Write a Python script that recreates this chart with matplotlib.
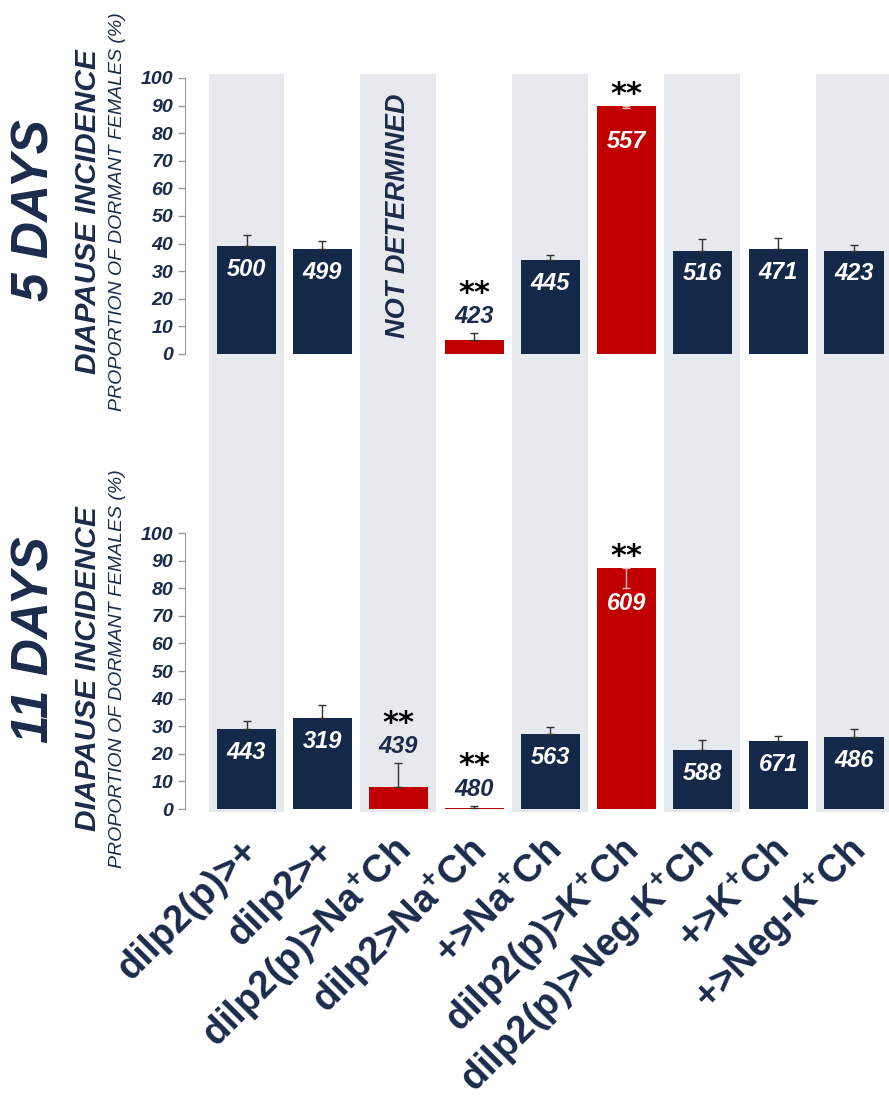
import numpy as np
import matplotlib
matplotlib.use("Agg")
import matplotlib.pyplot as plt
from matplotlib.transforms import ScaledTranslation

plt.rcParams["font.family"] = ["Liberation Sans", "DejaVu Sans"]
plt.rcParams["mathtext.fontset"] = "custom"
plt.rcParams["mathtext.rm"] = "Liberation Sans:bold"
plt.rcParams["mathtext.bf"] = "Liberation Sans:bold"

# genotypes along the x axis
genotypes = [
    "dilp2(p)>+",
    "dilp2>+",
    "dilp2(p)>Na$^{+}$Ch",
    "dilp2>Na$^{+}$Ch",
    "+>Na$^{+}$Ch",
    "dilp2(p)>K$^{+}$Ch",
    "dilp2(p)>Neg-K$^{+}$Ch",
    "+>K$^{+}$Ch",
    "+>Neg-K$^{+}$Ch",
]

# 5 days: % dormant females, error, n, significance (nan = not determined)
day5_values = [39, 38, np.nan, 5, 34, 90, 37.5, 38, 37.5]
day5_err = [4, 3, 0, 2.5, 2, 1, 4, 4, 2]
day5_n = [500, 499, None, 423, 445, 557, 516, 471, 423]
day5_sig = [False, False, False, True, False, True, False, False, False]

# 11 days
day11_values = [29, 33, 8, 0.5, 27, 87.5, 21.5, 24.5, 26]
day11_err = [3, 4.7, 8.5, 0.7, 2.8, 7.3, 3.6, 1.8, 2.9]
day11_n = [443, 319, 439, 480, 563, 609, 588, 671, 486]
day11_sig = [False, False, True, True, False, True, False, False, False]

NAVY = "#14284a"
TEXT = "#1b2b4b"
RED = "#c00000"
STRIPE = "#e6e9ee"

W, H = 889, 1108
fig = plt.figure(figsize=(W / 100, H / 100), dpi=100)

x = np.arange(len(genotypes))
xlim = (-0.81, 8.46)


def px_axes(left, top, right, bottom, **kw):
    return fig.add_axes([left / W, 1 - bottom / H, (right - left) / W, (bottom - top) / H], **kw)


# alternating grey column bands behind both panels
bg = px_axes(185, 74, 889, 812)
bg.set_xlim(*xlim)
bg.set_ylim(0, 1)
for i in x[::2]:
    bg.axvspan(i - 0.5, i + 0.5, color=STRIPE, lw=0)
bg.axis("off")


def draw_panel(ax, values, errs, ns, sig):
    ax.set_facecolor("none")
    ax.set_xlim(*xlim)
    ax.set_ylim(0, 100)
    for s in ["top", "right", "bottom"]:
        ax.spines[s].set_visible(False)
    ax.spines["left"].set_color("#9a9a9a")
    ax.set_yticks(range(0, 101, 10))
    ax.tick_params(axis="y", colors="#9a9a9a", length=5, width=1)
    for lab in ax.get_yticklabels():
        lab.set_color(TEXT)
        lab.set_fontsize(14)
        lab.set_fontweight("bold")
        lab.set_fontstyle("italic")
    ax.tick_params(axis="x", length=0)

    for i, (v, e, n, s) in enumerate(zip(values, errs, ns, sig)):
        if np.isnan(v):
            continue
        color = RED if s else NAVY
        ax.bar(i, v, width=0.78, color=color, zorder=2)
        if v > 50:
            # tall bars: error drawn downward inside the bar
            ax.errorbar(i, v, yerr=[[e], [0]], fmt="none", ecolor="#f2b8b8",
                        elinewidth=1, capsize=3, zorder=3)
            ax.text(i, v - 13, str(n), color="white", fontsize=17, fontweight="bold",
                    fontstyle="italic", ha="center", va="center", zorder=4)
            ax.text(i, v + 4, "**", color="black", fontsize=22, fontweight="bold",
                    ha="center", va="center", clip_on=False, family="DejaVu Sans")
        elif s:
            ax.errorbar(i, v, yerr=[[0], [e]], fmt="none", ecolor="#333333",
                        elinewidth=1, capsize=3, zorder=3)
            ax.text(i, v + e + 6, str(n), color=TEXT, fontsize=17, fontweight="bold",
                    fontstyle="italic", ha="center", va="center")
            ax.text(i, v + e + 14.5, "**", color="black", fontsize=22, fontweight="bold",
                    ha="center", va="center", family="DejaVu Sans")
        else:
            ax.errorbar(i, v, yerr=[[0], [e]], fmt="none", ecolor="#333333",
                        elinewidth=1, capsize=3, zorder=3)
            ax.text(i, v - 8.5, str(n), color="white", fontsize=17, fontweight="bold",
                    fontstyle="italic", ha="center", va="center", zorder=4)


top = px_axes(185, 78, 889, 354)
draw_panel(top, day5_values, day5_err, day5_n, day5_sig)
top.set_xticks(x)
top.set_xticklabels([])
top.text(2, 50, "NOT DETERMINED", rotation=90, color=TEXT, fontsize=19.5,
         fontweight="bold", fontstyle="italic", ha="center", va="center")

bottom = px_axes(185, 533, 889, 809)
draw_panel(bottom, day11_values, day11_err, day11_n, day11_sig)
bottom.set_xticks(x)
bottom.set_xticklabels(genotypes, rotation=45, ha="right", va="center",
                       rotation_mode="anchor", fontsize=27.5, fontweight="bold", color=TEXT)
bottom.tick_params(axis="x", pad=26)
shift = ScaledTranslation(6 / 100, 0, fig.dpi_scale_trans)
for lab in bottom.get_xticklabels():
    lab.set_transform(lab.get_transform() + shift)

# row titles and y-axis captions
for day, yc, yt in [("5 DAYS", 212, 210), ("11 DAYS", 669, 640)]:
    fig.text(35 / W, 1 - yt / H, day, rotation=90, fontsize=37, fontweight="bold",
             fontstyle="italic", color=TEXT, ha="center", va="center")
    fig.text(88 / W, 1 - yc / H, "DIAPAUSE INCIDENCE", rotation=90, fontsize=21.5,
             fontweight="bold", fontstyle="italic", color=TEXT, ha="center", va="center")
    fig.text(118 / W, 1 - yc / H, "PROPORTION OF DORMANT FEMALES (%)", rotation=90,
             fontsize=14, fontstyle="italic", color=TEXT, ha="center", va="center")

fig.savefig("out.png", dpi=100)
